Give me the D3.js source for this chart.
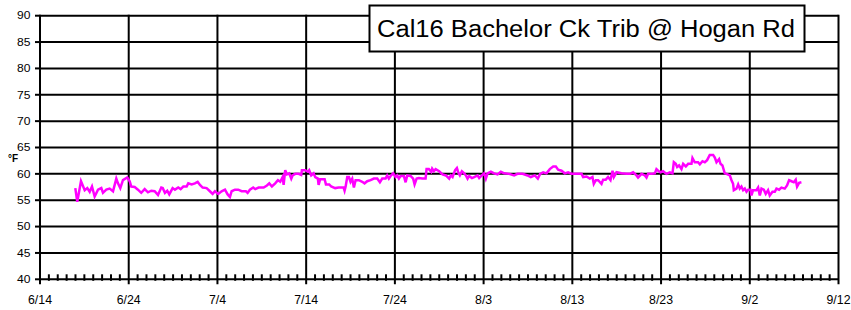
<!DOCTYPE html>
<html><head><meta charset="utf-8">
<script src="https://cdn.jsdelivr.net/npm/d3@7"></script>
<style>body{margin:0;background:#fff} svg{display:block}</style>
</head><body><svg id="c" width="851" height="310"></svg>
<script>
const title = "Cal16 Bachelor Ck Trib @ Hogan Rd";
const yLabel = "°F";
const xTickDays = [0,10,20,30,40,50,60,70,80,90];
const xTickLabels = ["6/14","6/24","7/4","7/14","7/24","8/3","8/13","8/23","9/2","9/12"];
const yTicks = [40,45,50,55,60,65,70,75,80,85,90];

// days since 6/14 00:00
const days = [
3.98,4.20,4.62,5.04,5.33,5.60,5.86,6.16,6.54,6.91,7.10,7.47,7.85,8.23,8.60,8.79,9.05,9.35,9.84,10.11,
10.29,10.67,11.04,11.41,11.80,12.17,12.54,12.92,13.30,13.67,13.83,14.08,14.34,14.57,14.95,15.21,15.58,15.85,16.15,16.53,
16.71,17.09,17.46,17.77,18.03,18.33,18.78,19.15,19.46,19.72,20.09,20.47,20.85,21.15,21.41,21.60,21.97,22.34,22.73,23.21,
23.40,23.66,24.03,24.26,24.64,25.21,25.58,25.84,26.14,26.51,26.82,27.08,27.35,27.46,27.64,27.83,28.09,28.32,28.47,28.77,
29.15,29.44,29.52,29.89,30.20,30.34,30.57,30.84,31.02,31.32,31.40,31.58,32.08,32.23,32.60,32.82,33.27,33.66,34.22,34.33,
34.45,34.63,34.82,35.00,35.19,35.38,35.57,35.94,36.32,36.58,36.88,37.26,37.63,38.01,38.31,38.57,38.95,39.13,39.32,39.52,
39.81,40.08,40.26,40.45,40.64,41.01,41.21,41.39,41.77,42.06,42.22,42.45,42.70,43.08,43.46,43.57,43.83,44.09,44.20,44.39,
44.59,44.99,45.37,45.75,46.12,46.31,46.50,46.79,46.99,47.18,47.32,47.55,47.81,48.00,48.19,48.37,48.68,48.94,49.32,49.50,
49.80,50.06,50.25,50.44,50.82,51.19,51.57,51.94,52.32,52.88,53.44,53.82,54.39,54.95,55.32,55.77,56.11,56.37,56.71,57.09,
57.46,57.84,58.14,58.40,58.78,59.15,59.53,59.91,60.47,61.04,61.22,61.60,61.97,62.27,62.42,62.65,62.91,63.29,63.47,63.77,
64.03,64.30,64.53,64.68,64.98,65.54,66.11,66.48,66.85,67.23,67.41,67.80,68.17,68.36,68.54,68.92,69.30,69.48,69.67,69.94,
70.23,70.61,70.99,71.29,71.44,71.66,71.81,72.03,72.30,72.49,72.79,73.05,73.43,73.54,73.80,74.17,74.37,74.67,74.93,75.19,
75.49,75.87,76.06,76.25,76.54,76.70,76.92,77.18,77.37,77.75,77.94,78.12,78.20,78.50,78.69,78.87,79.06,79.25,79.44,79.63,
79.81,80.08,80.19,80.37,80.75,80.94,81.13,81.32,81.58,81.80,82.06,82.25,82.56,82.82,83.01,83.30,83.57,83.94,84.20,84.43,
84.70,84.96,85.18,85.33,85.56,85.82
];
const tempF = [
57.3,54.7,58.6,56.9,57.3,56.6,57.6,55.7,57.0,57.3,56.4,57.0,57.2,56.7,59.1,58.2,57.3,58.8,59.3,58.6,
57.6,57.5,57.0,56.4,57.1,56.5,56.8,56.7,56.0,57.4,57.3,56.4,56.8,56.1,57.3,57.0,57.4,57.1,57.6,57.6,
58.2,58.0,58.2,58.5,57.9,57.4,57.3,56.7,56.2,56.7,56.2,56.7,57.0,56.1,55.6,56.7,57.0,57.0,56.7,56.7,
56.4,57.0,57.4,57.1,57.4,57.4,57.8,58.2,57.6,58.2,58.8,58.5,59.4,57.9,60.7,59.9,60.1,59.1,59.7,60.0,
60.0,59.8,60.7,60.7,60.4,60.7,59.7,60.1,59.4,59.1,57.9,59.0,59.0,58.0,58.0,57.6,57.3,57.4,57.4,56.8,
57.6,59.4,59.4,58.5,59.1,57.4,58.8,58.8,58.5,58.2,58.6,58.8,59.1,59.1,58.4,59.1,59.1,59.7,59.1,59.6,
60.1,59.4,59.7,59.1,59.6,59.6,58.4,59.7,59.6,59.1,58.0,59.1,59.2,59.1,59.1,60.9,60.9,60.4,61.0,60.5,
60.9,60.5,59.9,59.7,59.1,59.7,59.4,60.7,61.1,60.1,59.7,60.5,60.1,59.7,59.1,59.6,59.2,59.4,59.7,59.2,
59.7,60.1,59.1,60.1,60.4,60.1,59.9,60.4,60.1,60.0,59.7,60.0,60.0,59.7,59.4,59.7,59.1,60.0,60.3,60.1,
60.9,61.4,61.4,60.8,60.6,60.1,60.3,60.0,60.0,60.0,59.4,59.5,59.1,59.4,58.1,58.8,58.8,58.1,58.9,58.9,
59.4,58.8,60.6,59.4,60.3,60.1,60.0,60.0,60.3,59.7,59.3,60.0,59.7,59.3,60.0,60.0,60.1,60.9,60.6,60.3,
60.5,60.0,60.3,60.1,62.2,61.9,61.3,61.6,60.9,61.9,61.4,61.9,61.9,63.0,62.2,62.2,61.8,62.4,62.2,62.6,
63.6,63.6,63.1,62.2,62.8,61.9,61.6,60.1,60.0,59.7,58.8,58.1,56.9,57.2,58.0,57.2,57.6,56.9,57.2,56.6,
57.0,57.0,55.9,56.9,56.9,57.4,55.9,57.2,57.0,56.2,56.9,55.9,56.6,56.6,57.2,57.0,57.4,57.2,57.8,58.8,
58.6,58.4,58.9,57.6,58.3,58.4
];

const svg = d3.select("#c");
const pLeft = 40, pRight = 838.5, pTop = 15.7, pBottom = 279.3;
const x = d3.scaleLinear().domain([0, 90]).range([pLeft, pRight]);
const y = d3.scaleLinear().domain([40, 90]).range([pBottom, pTop]);
const font = "Arial, 'Liberation Sans', sans-serif";

// horizontal gridlines
svg.append("g").selectAll("line").data(yTicks.filter(v => v > 40)).join("line")
  .attr("x1", pLeft).attr("x2", pRight).attr("y1", d => y(d)).attr("y2", d => y(d))
  .attr("stroke", "#000").attr("stroke-width", 2);

// vertical gridlines + major ticks
svg.append("g").selectAll("line").data(xTickDays).join("line")
  .attr("x1", d => x(d)).attr("x2", d => x(d)).attr("y1", pTop - 1).attr("y2", pBottom + 5)
  .attr("stroke", "#000").attr("stroke-width", 2);

// minor ticks (daily)
const minor = d3.range(1, 90).filter(d => d % 10 !== 0);
svg.append("g").selectAll("line").data(minor).join("line")
  .attr("x1", d => x(d)).attr("x2", d => x(d)).attr("y1", pBottom - 5).attr("y2", pBottom + 1.5)
  .attr("stroke", "#000").attr("stroke-width", 2);

// x axis line
svg.append("line").attr("x1", pLeft).attr("x2", pRight).attr("y1", pBottom).attr("y2", pBottom)
  .attr("stroke", "#000").attr("stroke-width", 2);

// y ticks
svg.append("g").selectAll("line").data(yTicks).join("line")
  .attr("x1", pLeft - 5).attr("x2", pLeft).attr("y1", d => y(d)).attr("y2", d => y(d))
  .attr("stroke", "#000").attr("stroke-width", 2);

// y labels
svg.append("g").selectAll("text").data(yTicks).join("text")
  .attr("transform", d => `translate(${pLeft - 9.5},${y(d)}) scale(1.15,1)`)
  .attr("dy", "0.36em").attr("text-anchor", "end")
  .style("font-family", font).style("font-size", "10.5px").attr("fill", "#000")
  .text(d => d);

// x labels
svg.append("g").selectAll("text").data(xTickDays).join("text")
  .attr("x", d => x(d)).attr("y", 303.5).attr("text-anchor", "middle")
  .style("font-family", font).style("font-size", "12.3px").attr("fill", "#000")
  .text((d, i) => xTickLabels[i]);

// y axis label
svg.append("text").attr("x", 13).attr("y", 162).attr("text-anchor", "middle")
  .style("font-family", font).style("font-size", "10px").style("font-weight", "bold")
  .text(yLabel);

// data line
const pts = days.map((d, i) => [d, tempF[i]]);
svg.append("path").datum(pts)
  .attr("fill", "none").attr("stroke", "#FF00FF").attr("stroke-width", 2.5)
  .attr("stroke-linejoin", "miter")
  .attr("d", d3.line().x(p => x(p[0])).y(p => y(p[1])));

// title box
svg.append("rect").attr("x", 369.5).attr("y", 5.5).attr("width", 435).attr("height", 46)
  .attr("fill", "#fff").attr("stroke", "#000").attr("stroke-width", 2);
svg.append("text").attr("x", 377).attr("y", 37.3)
  .attr("textLength", 418).attr("lengthAdjust", "spacingAndGlyphs")
  .style("font-family", font).style("font-size", "23px").attr("fill", "#000")
  .text(title);
</script>
</body></html>
